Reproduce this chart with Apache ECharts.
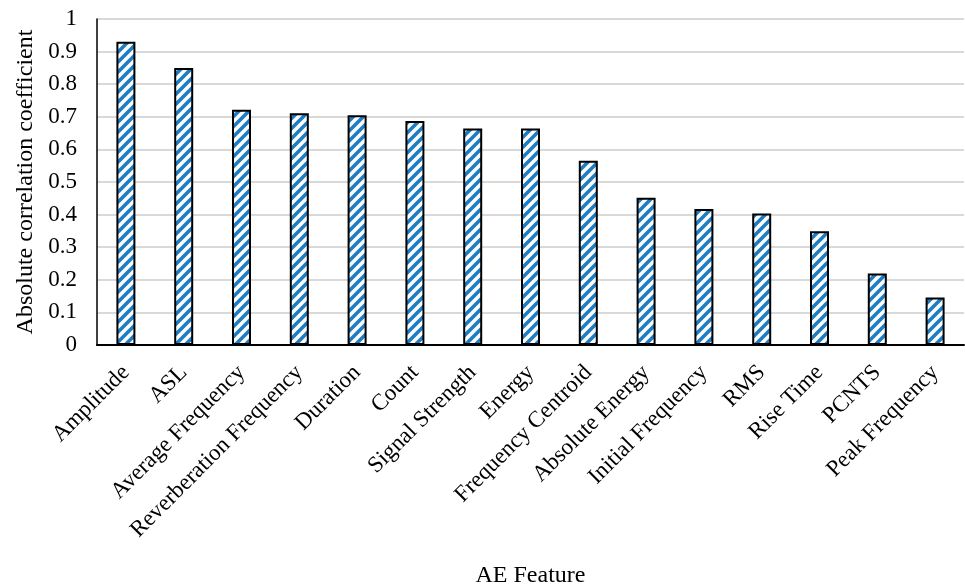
<!DOCTYPE html>
<html>
<head>
<meta charset="utf-8">
<script src="https://cdn.jsdelivr.net/npm/echarts@6/dist/echarts.min.js"></script>
<style>
  html, body { margin: 0; padding: 0; background: #ffffff; }
  #chart { width: 965px; height: 587px; }
</style>
</head>
<body>
<div id="chart"></div>
<script>
// AE features ranked by absolute correlation coefficient
const features = [
  'Amplitude', 'ASL', 'Average Frequency', 'Reverberation Frequency', 'Duration',
  'Count', 'Signal Strength', 'Energy', 'Frequency Centroid', 'Absolute Energy',
  'Initial Frequency', 'RMS', 'Rise Time', 'PCNTS', 'Peak Frequency'
];
const correlation = [
  0.930, 0.850, 0.722, 0.711, 0.705,
  0.687, 0.664, 0.664, 0.565, 0.452,
  0.417, 0.403, 0.349, 0.219, 0.146
];
const yTicks = { min: 0, max: 1, step: 0.1 };

// Diagonal-stripe fill tile ("/" hatching, blue on white)
function stripeTile() {
  const s = 10;
  const c = document.createElement('canvas');
  c.width = s; c.height = s;
  const g = c.getContext('2d');
  g.fillStyle = '#ffffff';
  g.fillRect(0, 0, s, s);
  g.strokeStyle = '#1f7dc3';
  g.lineWidth = 3.6;
  g.lineCap = 'square';
  for (let k = -1; k <= 1; k++) {
    g.beginPath();
    g.moveTo(k * s - 2, s + 2);
    g.lineTo(k * s + s + 2, -2);
    g.stroke();
  }
  return c;
}

const font = 'Liberation Serif, Times New Roman, serif';
const chart = echarts.init(document.getElementById('chart'), null, { renderer: 'canvas' });

chart.setOption({
  animation: false,
  backgroundColor: '#ffffff',
  grid: {
    left: 97, right: 1, top: 19, bottom: 242,
    containLabel: false,
    outerBoundsMode: 'none'
  },
  xAxis: {
    type: 'category',
    data: features,
    name: 'AE Feature',
    nameLocation: 'middle',
    nameGap: 219,
    nameTextStyle: { fontFamily: font, fontSize: 24, color: '#000' },
    axisLine: { lineStyle: { color: '#000', width: 2 } },
    axisTick: { show: false },
    axisLabel: {
      interval: 0,
      rotate: 45,
      margin: 24,
      fontFamily: font,
      fontSize: 23,
      color: '#000'
    }
  },
  yAxis: {
    type: 'value',
    min: yTicks.min,
    max: yTicks.max,
    interval: yTicks.step,
    name: 'Absolute correlation coefficient',
    nameLocation: 'middle',
    nameGap: 48,
    nameTextStyle: { fontFamily: font, fontSize: 24, color: '#000' },
    axisLine: { show: true, lineStyle: { color: '#000', width: 1.5 } },
    axisTick: { show: false },
    axisLabel: {
      margin: 20,
      fontFamily: font,
      fontSize: 23,
      color: '#000',
      formatter: v => String(Math.round(v * 10) / 10)
    },
    splitLine: { lineStyle: { color: '#d9d9d9', width: 2 } }
  },
  series: [{
    type: 'bar',
    data: correlation,
    barWidth: 19,
    itemStyle: {
      color: { image: stripeTile(), repeat: 'repeat' },
      borderColor: '#000',
      borderWidth: 2
    }
  }]
});
</script>
</body>
</html>
